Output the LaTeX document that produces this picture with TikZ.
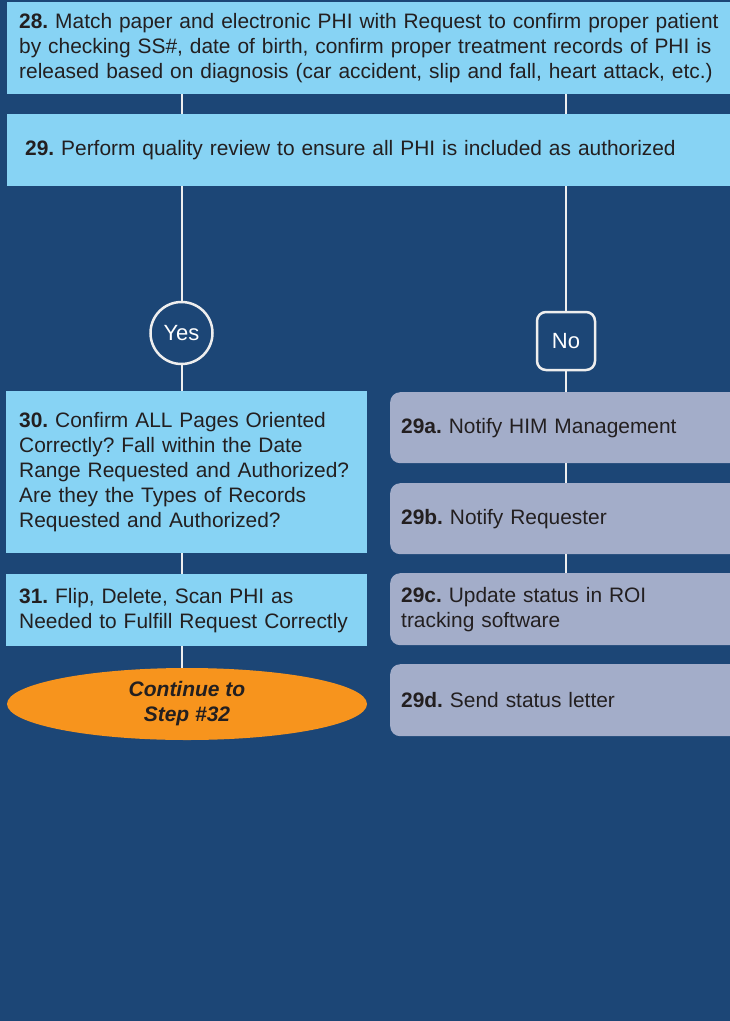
\documentclass[tikz,border=0pt]{standalone}
\usepackage{fontspec}
\setmainfont{Liberation Sans}
\usetikzlibrary{shapes.geometric}
\definecolor{bg}{HTML}{1C4676}
\definecolor{lb}{HTML}{87D3F4}
\definecolor{gb}{HTML}{A3ADC9}
\definecolor{og}{HTML}{F7941D}
\definecolor{tx}{HTML}{231F20}
\definecolor{ln}{HTML}{EEEEEE}
\frenchspacing
\begin{document}
\begin{tikzpicture}[x=1pt,y=-1pt,
  stepbox/.style={anchor=north west, inner ysep=0pt, align=left, text=tx,
    font=\fontsize{20.9}{25}\selectfont},
  bluebox/.style={stepbox, fill=lb},
  graybox/.style={stepbox, fill=gb, rounded corners=10pt},
  conn/.style={draw=ln, line width=2pt},
  lbl/.style={draw=ln, line width=2.5pt, text=white, font=\fontsize{22}{24}\selectfont, inner sep=0pt}]
\useasboundingbox (0,0) rectangle (730,1021);
\clip (0,0) rectangle (730,1021);
\fill[bg] (0,0) rectangle (730,1021);

\node[bluebox, inner xsep=12pt, minimum width=733pt, minimum height=92pt, text width=709pt] (b28) at (7,2)
 {\textbf{28.} Match paper and electronic PHI with Request to confirm proper patient\\
  by checking SS\#, date of birth, confirm proper treatment records of PHI is\\
  released based on diagnosis (car accident, slip and fall, heart attack, etc.)};
\node[bluebox, inner xsep=18pt, minimum width=733pt, minimum height=72pt, text width=697pt] (b29) at (7,114)
 {\textbf{29.} Perform quality review to ensure all PHI is included as authorized};

\node[lbl, circle, minimum size=62pt] (yes) at (181.5,333) {Yes};
\node[lbl, rectangle, rounded corners=9pt, minimum size=58pt] (no) at (566,341) {No};

\node[bluebox, inner xsep=13pt, minimum width=361pt, minimum height=162pt, text width=335pt] (b30) at (6,391)
 {\textbf{30.} Confirm ALL Pages Oriented\\ Correctly? Fall within the Date\\ Range Requested and Authorized?\\ Are they the Types of Records\\ Requested and Authorized?};
\node[bluebox, inner xsep=13pt, minimum width=361pt, minimum height=72pt, text width=335pt] (b31) at (6,574)
 {\textbf{31.} Flip, Delete, Scan PHI as\\ Needed to Fulfill Request Correctly};
\node[ellipse, fill=og, minimum width=360pt, minimum height=72pt, inner sep=0pt, align=center, text=tx,
  font=\fontsize{21}{25}\selectfont\bfseries\itshape] (cont) at (187,704) {Continue to\\ Step \#32};

\node[graybox, inner xsep=11pt, minimum width=370pt, minimum height=71pt, text width=348pt] (g29a) at (390,392)
 {\textbf{29a.} Notify HIM Management};
\node[graybox, inner xsep=11pt, minimum width=370pt, minimum height=71pt, text width=348pt] (g29b) at (390,483)
 {\textbf{29b.} Notify Requester};
\node[graybox, inner xsep=11pt, minimum width=370pt, minimum height=72pt, text width=348pt] (g29c) at (390,573)
 {\textbf{29c.} Update status in ROI\\ tracking software};
\node[graybox, inner xsep=11pt, minimum width=370pt, minimum height=72pt, text width=348pt] (g29d) at (390,664)
 {\textbf{29d.} Send status letter};

\draw[conn] (b28.south -| yes.center) -- (b29.north -| yes.center);
\draw[conn] (b29.south -| yes.center) -- (yes.north);
\draw[conn] (yes.south) -- (b30.north -| yes.center);
\draw[conn] (b30.south -| yes.center) -- (b31.north -| yes.center);
\draw[conn] (b31.south -| yes.center) -- (cont.north -| yes.center);

\draw[conn] (b28.south -| no.center) -- (b29.north -| no.center);
\draw[conn] (b29.south -| no.center) -- (no.north);
\draw[conn] (no.south) -- (g29a.north -| no.center);
\draw[conn] (g29a.south -| no.center) -- (g29b.north -| no.center);
\draw[conn] (g29b.south -| no.center) -- (g29c.north -| no.center);
\end{tikzpicture}
\end{document}
